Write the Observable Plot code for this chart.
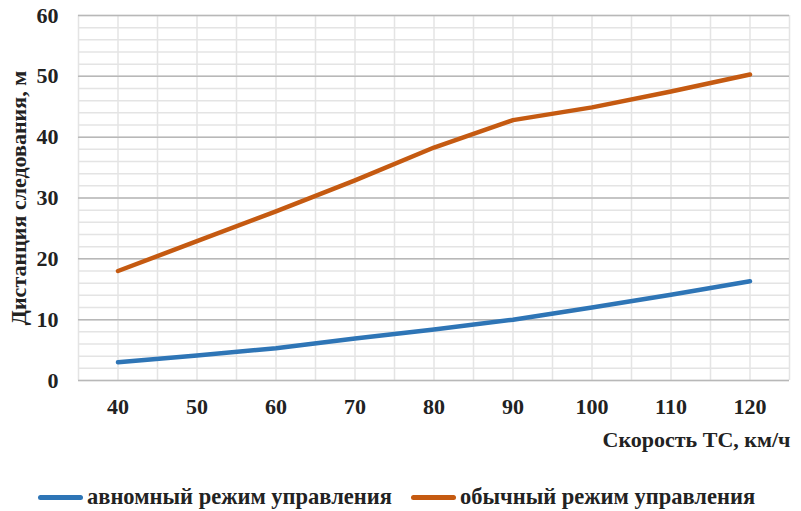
<!DOCTYPE html>
<html><head><meta charset="utf-8">
<script src="https://cdn.jsdelivr.net/npm/d3@7"></script>
<script src="https://cdn.jsdelivr.net/npm/@observablehq/plot@0.6"></script>
<style>
body{margin:0;background:#fff;}
svg, svg text, #legend, #legend span{font-family:"Liberation Serif","Times New Roman",Tinos,"DejaVu Serif",serif !important;}
#legend{display:flex;gap:19px;margin-left:38px;margin-top:22px;font-weight:bold;font-size:22.5px;line-height:26px;color:#222;}
.item{display:flex;align-items:center;}
.sw{display:inline-block;width:45px;height:5px;border-radius:3px;margin-right:4px;}
</style></head><body>
<div id="chart"></div>
<div id="legend"></div>
<script>
const speeds = [40, 50, 60, 70, 80, 90, 100, 110, 120];
const autonomous = [3.0, 4.1, 5.3, 6.9, 8.4, 10.0, 12.0, 14.1, 16.3];
const normal = [18.0, 22.9, 27.8, 32.9, 38.3, 42.8, 44.9, 47.5, 50.3];
const seriesNames = ["авномный режим управления", "обычный режим управления"];
const seriesColors = ["#2e75b6", "#c55a11"];
const yTicks = [0, 10, 20, 30, 40, 50, 60];
const xTitle = "Скорость ТС, км/ч";
const yTitle = "Дистанция следования, м";

const data = [];
speeds.forEach((s, i) => {
  data.push({speed: s, value: autonomous[i], series: seriesNames[0]});
  data.push({speed: s, value: normal[i], series: seriesNames[1]});
});
const minorY = d3.range(0, 61, 2);
const gridX = d3.range(35, 126, 5);

const chart = Plot.plot({
  width: 801,
  height: 462,
  marginLeft: 78,
  marginRight: 12,
  marginTop: 15,
  marginBottom: 82,
  style: {fontWeight: "bold", fontSize: "20px", color: "#222", background: "#fff"},
  x: {domain: [35, 125], ticks: speeds, tickSize: 0, tickPadding: 18, label: null, tickFormat: d => d},
  y: {domain: [0, 60], ticks: yTicks, tickSize: 0, tickPadding: 20, label: null},
  color: {domain: seriesNames, range: seriesColors},
  marks: [
    Plot.ruleY(minorY, {stroke: "#e4e4e4", strokeWidth: 1.5}),
    Plot.ruleX(gridX, {stroke: "#e4e4e4", strokeWidth: 1.5}),
    Plot.ruleY(yTicks, {stroke: "#b8b8b8", strokeWidth: 1.5}),
    Plot.axisX({ticks: speeds, tickSize: 0, tickPadding: 18, label: null, fontSize: 22}),
    Plot.axisY({ticks: yTicks, tickSize: 0, tickPadding: 20, label: null, fontSize: 22}),
    Plot.line(data, {x: "speed", y: "value", stroke: "series", z: "series", strokeWidth: 4.5, strokeLinecap: "round", strokeLinejoin: "round"}),
    Plot.text([xTitle], {frameAnchor: "bottom-right", dx: 1, dy: 66, fontSize: 22, fontWeight: "bold", textAnchor: "end"}),
    Plot.text([yTitle], {frameAnchor: "left", dx: -60, dy: 0, rotate: -90, fontSize: 22, fontWeight: "bold", textAnchor: "middle"})
  ]
});
document.getElementById("chart").appendChild(chart);

const lg = document.getElementById("legend");
seriesNames.forEach((n, i) => {
  const it = document.createElement("div");
  it.className = "item";
  const sw = document.createElement("span");
  sw.className = "sw";
  sw.style.background = seriesColors[i];
  it.appendChild(sw);
  const t = document.createElement("span");
  t.textContent = n;
  it.appendChild(t);
  lg.appendChild(it);
});
</script>
</body></html>
